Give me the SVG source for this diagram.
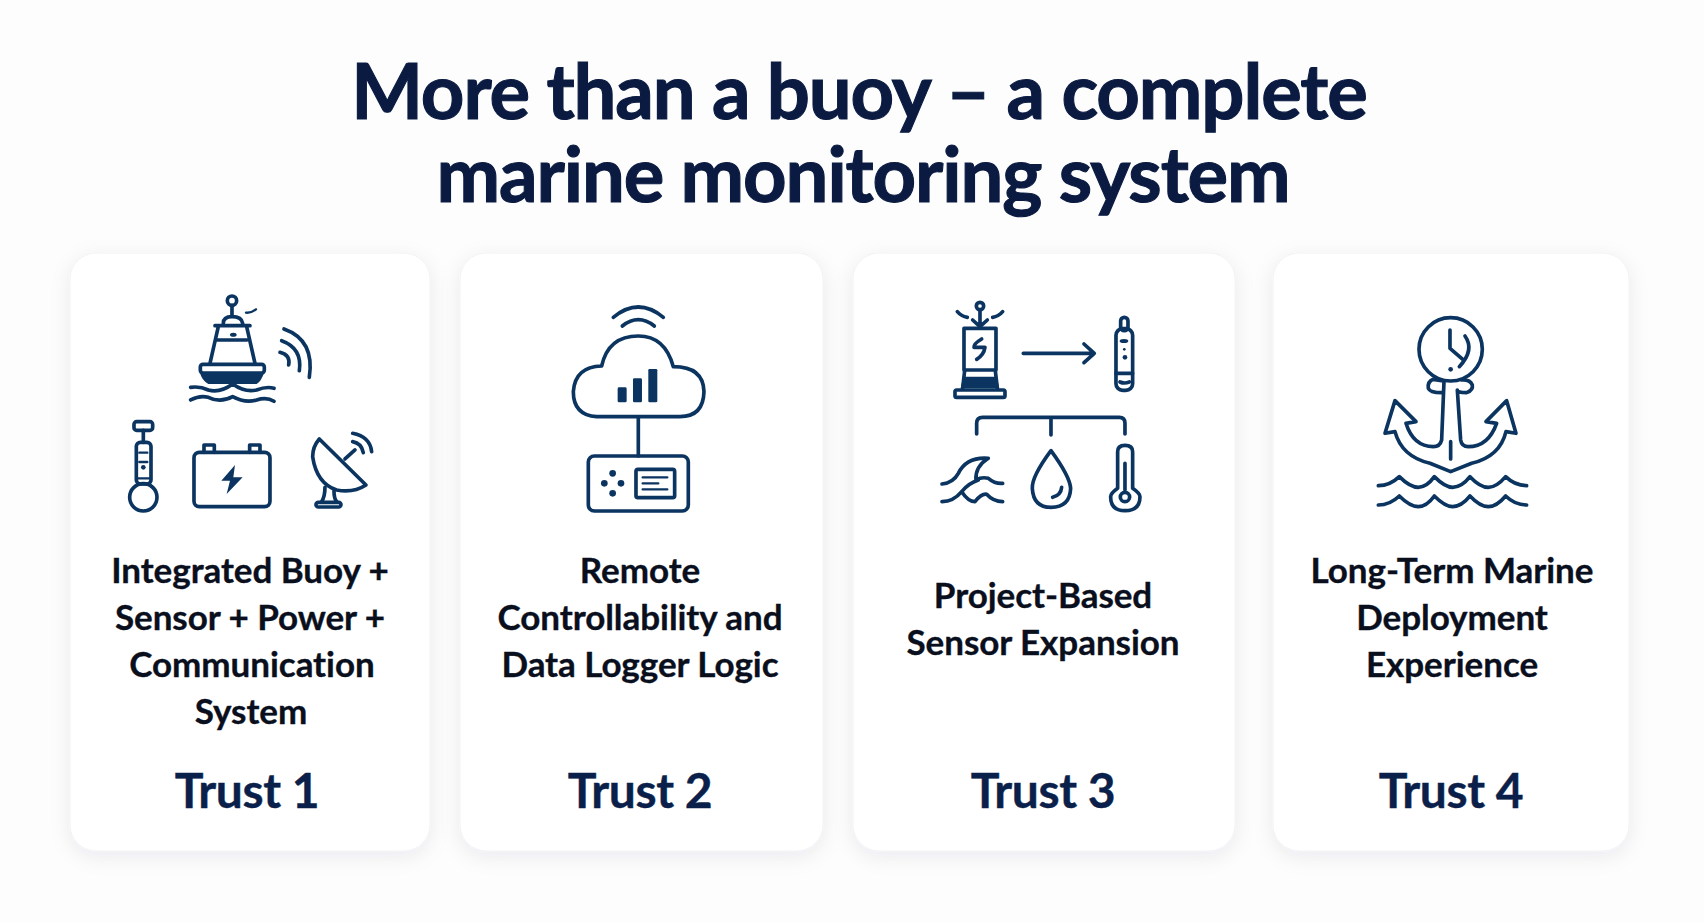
<svg xmlns="http://www.w3.org/2000/svg" width="1704" height="923" viewBox="0 0 1704 923">
<defs>
<filter id="sh" x="-15%" y="-10%" width="130%" height="125%"><feDropShadow dx="0" dy="5" stdDeviation="10" flood-color="#1a2a4a" flood-opacity="0.08"/></filter>
</defs>
<style>
text{font-family:"Lato","Liberation Sans",sans-serif;font-weight:700;text-anchor:middle;font-variant-ligatures:none}
.t{font-size:76px;fill:#0a1a40;stroke:#0a1a40;stroke-width:1.1;letter-spacing:-1.1px}
.b{font-size:35px;fill:#0a0f1e;stroke:#0a0f1e;stroke-width:.35;letter-spacing:-.05px}
.r{font-size:48px;fill:#0b1f4b;stroke:#0b1f4b;stroke-width:.4;letter-spacing:-.4px}
.card{fill:#fff;stroke:#f1f2f4;stroke-width:1;filter:url(#sh)}
.i{fill:none;stroke:#0b3560;stroke-width:11;stroke-linecap:round;stroke-linejoin:round}
.f{fill:#0b3560;stroke:none}
</style>
<rect width="1704" height="923" fill="#fdfdfe"/>
<g id="title"><text class="t" x="859" y="119">More than a buoy – a complete</text><text class="t" x="863" y="202">marine monitoring system</text></g>
<g id="connectors"></g>
<g id="card1"><rect class="card" x="70" y="253" width="360" height="598" rx="26"/>
<g transform="translate(60,260) scale(0.3333)" class="i">
<circle cx="516" cy="122" r="14"/><path d="M516 136V170M490 190Q490 170 516 170Q545 170 548 190M465 197H570M475 200L450 310M560 200L585 310M472 240H560"/>
<ellipse class="f" cx="520" cy="224" rx="10" ry="6"/><path stroke-width="7" d="M558 158Q572 160 588 148"/>
<rect x="421" y="313" width="192" height="26" rx="8"/><path class="f" d="M420 338H612Q605 362 590 372H445Q425 360 420 338Z"/>
<path d="M392 382Q420 378 445 390Q480 400 518 372Q555 398 590 390Q620 378 642 385M392 420Q420 405 445 412Q480 430 518 410Q555 430 590 420Q620 410 642 424"/>
<path d="M672 207Q765 240 748 352M665 242Q728 265 718 332M660 277Q692 285 686 315"/>
<rect x="222" y="485" width="56" height="26" rx="8"/><path d="M250 511V547"/><rect x="229" y="547" width="44" height="125" rx="12"/><circle cx="250" cy="712" r="41"/><path stroke-width="7" d="M229 655H273M238 578H262M238 606H262"/><circle class="f" cx="250" cy="622" r="7"/>
<rect x="402" y="577" width="228" height="163" rx="16"/><path d="M432 577V555H463V577M569 577V555H600V577"/><path class="f" d="M525 615L484 662H510L500 702L548 652H520Z"/>
<path d="M778 537L918 675Q880 700 830 690Q770 670 758 590Q758 560 778 537Z"/><path d="M855 597L885 570M878 520Q930 530 935 575M878 545Q905 550 910 578M795 682Q795 710 785 725M822 693Q822 715 830 725"/><rect x="768" y="727" width="75" height="14" rx="7"/>
</g>
<text class="b" x="250" y="583">Integrated Buoy +</text><text class="b" x="250" y="630">Sensor + Power +</text><text class="b" x="252" y="677">Communication</text><text class="b" x="251" y="724">System</text><text class="r" x="247" y="808">Trust 1</text></g>
<g id="card2"><rect class="card" x="460" y="253" width="363" height="598" rx="26"/>
<g transform="translate(460,260) scale(0.3333)" class="i">
<path d="M460 172Q535 110 610 172M487 198Q535 160 583 198M410 470Q340 465 340 395Q345 320 425 318Q445 228 535 228Q615 228 640 320Q730 320 732 395Q730 470 660 470ZM535 470V588"/>
<rect class="f" x="473" y="382" width="27" height="45" rx="4"/><rect class="f" x="519" y="355" width="27" height="72" rx="4"/><rect class="f" x="565" y="327" width="27" height="100" rx="4"/>
<rect x="385" y="588" width="300" height="165" rx="18"/><circle class="f" cx="458" cy="640" r="10"/><circle class="f" cx="433" cy="670" r="10"/><circle class="f" cx="483" cy="670" r="10"/><circle class="f" cx="458" cy="700" r="10"/>
<rect x="528" y="628" width="116" height="85" rx="6"/><path stroke-width="7" d="M548 652H622M548 670H595M548 688H622"/>
</g>
<text class="b" x="640" y="583">Remote</text><text class="b" x="640" y="630">Controllability and</text><text class="b" x="640" y="677">Data Logger Logic</text><text class="r" x="640" y="808">Trust 2</text></g>
<g id="card3"><rect class="card" x="853" y="253" width="382" height="598" rx="26"/>
<g transform="translate(850,260) scale(0.3333)" class="i">
<circle cx="390" cy="138" r="11"/><path d="M390 150V200M368 180L390 200L412 180M322 155Q335 170 352 172M458 155Q445 170 428 172"/>
<rect x="342" y="205" width="96" height="125"/><path d="M395 237Q370 252 372 262H405Q402 285 380 298"/><path class="f" d="M340 350H440L448 385H332Z"/><path d="M344 332L338 385M436 332L442 385"/><rect x="315" y="390" width="150" height="22" rx="5"/>
<path d="M520 280H732M702 252L733 280L702 308"/>
<rect x="812" y="172" width="22" height="40" rx="11"/><rect x="798" y="206" width="50" height="185" rx="20"/><path d="M798 340H848M810 366Q823 372 838 366"/><ellipse class="f" cx="822" cy="243" rx="13" ry="6"/><circle class="f" cx="823" cy="268" r="4"/><circle class="f" cx="825" cy="292" r="7"/>
<path d="M380 522V490Q380 472 398 472H808Q825 472 825 490V522M603 472V525"/>
<path d="M276 672Q310 668 325 640Q350 590 415 595Q375 620 378 660Q395 650 415 655Q435 672 458 670M276 725Q310 725 335 695Q355 670 385 660M335 695Q355 725 375 725Q395 700 410 703Q430 725 458 725"/>
<path d="M603 572Q545 650 547 685Q550 742 603 742Q660 742 662 685Q660 650 603 572ZM635 682Q633 705 608 712"/>
<path d="M803 685V575Q803 556 825 556Q848 556 848 575V685Q870 700 870 710Q870 752 825 752Q782 752 782 710Q782 700 803 685ZM825 610V690"/><circle cx="825" cy="711" r="14"/>
</g>
<text class="b" x="1043" y="608">Project-Based</text><text class="b" x="1043" y="655">Sensor Expansion</text><text class="r" x="1043" y="808">Trust 3</text></g>
<g id="card4"><rect class="card" x="1273" y="253" width="356" height="598" rx="26"/>
<g transform="translate(1270,260) scale(0.3333)" class="i">
<circle cx="542" cy="268" r="95"/><path d="M540 210V265L580 300M585 228Q615 270 568 320"/><circle class="f" cx="542" cy="328" r="7"/>
<path d="M515 362L490 358Q472 365 475 385Q480 398 515 398M522 365L515 540Q510 560 490 560Q430 560 408 490L438 485L375 422L345 520L375 515Q395 590 480 610L542 635L605 610Q690 590 708 515L738 520L710 422L648 485L680 490Q655 560 595 560Q575 560 572 540L562 390Q562 398 590 398Q610 390 607 375Q600 358 575 360M542 545V597"/>
<path d="M325 677Q360 677 388 650Q420 682 445 682Q470 682 493 650Q525 682 548 682Q575 682 600 650Q630 682 655 682Q680 682 707 650Q735 677 770 677M325 735Q360 735 388 708Q420 740 445 740Q470 740 493 708Q525 740 548 740Q575 740 600 708Q630 740 655 740Q680 740 707 708Q735 735 770 735"/>
</g>
<text class="b" x="1452" y="583">Long-Term Marine</text><text class="b" x="1452" y="630">Deployment</text><text class="b" x="1452" y="677">Experience</text><text class="r" x="1451" y="808">Trust 4</text></g>
</svg>
